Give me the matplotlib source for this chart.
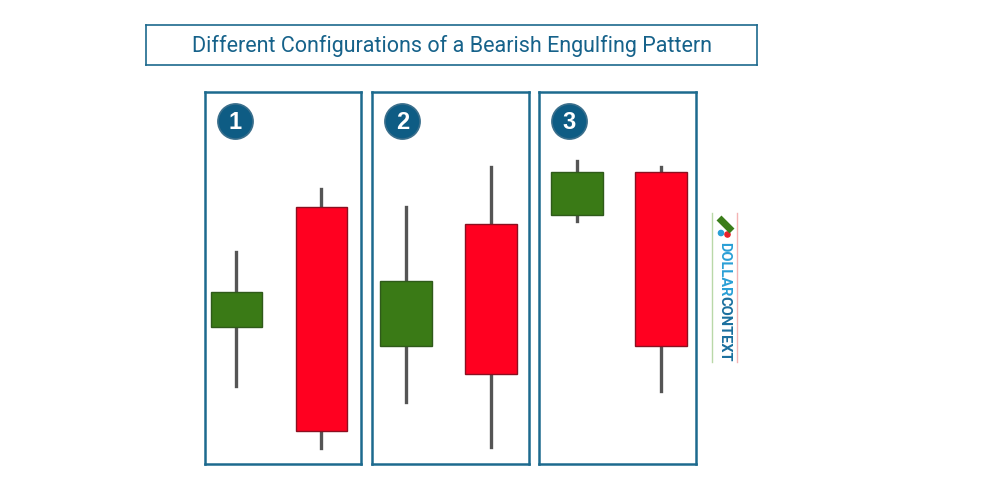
import matplotlib.pyplot as plt
from matplotlib.patches import Rectangle, Circle

# price units: 0 = panel bottom, 100 = panel top
panel_labels = ['1', '2', '3']
bull_open = [36.8, 31.7, 66.9]
bull_close = [46.2, 49.2, 78.5]
bull_high = [57.0, 69.1, 81.5]
bull_low = [21.0, 16.7, 65.3]
bear_open = [69.1, 64.5, 78.5]
bear_close = [8.9, 24.2, 31.7]
bear_high = [73.9, 79.8, 79.8]
bear_low = [4.3, 4.6, 19.6]

title = 'Different Configurations of a Bearish Engulfing Pattern'

BORDER = '#1d6a8e'
DARK = '#0e5c84'
GREEN = '#3a7a16'
RED = '#ff0020'
WICK = '#555555'

fig = plt.figure(figsize=(10, 5), dpi=100)
W, H = 1000, 500

def px_axes(x0, y0, x1, y1):
    return fig.add_axes([x0 / W, 1 - y1 / H, (x1 - x0) / W, (y1 - y0) / H])

# title box
tax = px_axes(146, 25, 757, 65)
tax.set_xticks([]); tax.set_yticks([])
for s in tax.spines.values():
    s.set_color(BORDER); s.set_linewidth(1.2)
tax.text(0.5, 0.47, title, ha='center', va='center', color='#16628a',
         fontsize=15.5, family=['Roboto', 'DejaVu Sans'],
         transform=tax.transAxes)

panels_x = [(205, 361), (372, 529), (539, 696)]
# candle centres as fraction of panel width (bull, bear)
centres = [(0.199, 0.744), (0.217, 0.758), (0.242, 0.777)]
bw = 0.327
for i, (x0, x1) in enumerate(panels_x):
    ax = px_axes(x0, 92, x1, 464)
    ax.set_xlim(0, 1)
    ax.set_ylim(0, 100)
    ax.set_xticks([]); ax.set_yticks([])
    for s in ax.spines.values():
        s.set_color(BORDER); s.set_linewidth(1.8)
    xb, xr = centres[i]
    # bullish candle
    ax.plot([xb, xb], [bull_low[i], bull_high[i]], color=WICK, lw=2.4, zorder=1)
    ax.add_patch(Rectangle((xb - bw / 2, bull_open[i]), bw, bull_close[i] - bull_open[i],
                           facecolor=GREEN, edgecolor='#2f5a1a', lw=1, zorder=2))
    # bearish candle
    ax.plot([xr, xr], [bear_low[i], bear_high[i]], color=WICK, lw=2.4, zorder=1)
    ax.add_patch(Rectangle((xr - bw / 2, bear_close[i]), bw, bear_open[i] - bear_close[i],
                           facecolor=RED, edgecolor='#8a1020', lw=1, zorder=2))
    # number badge
    bx = px_axes(x0 + 12, 103, x0 + 49, 140)
    bx.set_xlim(-1, 1); bx.set_ylim(-1, 1); bx.axis('off')
    bx.add_patch(Circle((0, 0), 0.95, facecolor=DARK, edgecolor='#3b6f8c', lw=1.2))
    bx.text(0, -0.05, panel_labels[i], ha='center', va='center', color='white',
            fontsize=17, fontweight='bold', family='Liberation Sans')

# logo
lax = px_axes(706, 205, 744, 365)
lax.set_xlim(0, 38); lax.set_ylim(160, 0); lax.axis('off')
lax.plot([6, 6], [8, 157], color='#b9d8a8', lw=1)
lax.plot([31, 31], [8, 157], color='#f4b3b3', lw=1)
lax.plot([13, 26], [13, 26], color='#3b7d1a', lw=5, solid_capstyle='butt')
lax.add_patch(Circle((15, 28), 2.6, color='#2a9fd6'))
lax.add_patch(Circle((21.5, 29.5), 2.6, color='#e8202a'))
lax.text(18.5, 91, 'DOLLAR', rotation=-90, ha='center', va='bottom', color='#2a9fd6',
         fontsize=10.5, fontweight='bold', family=['Roboto', 'DejaVu Sans'])
lax.text(18.5, 91, 'CONTEXT', rotation=-90, ha='center', va='top', color='#1b6f9e',
         fontsize=10.5, fontweight='bold', family=['Roboto', 'DejaVu Sans'])

fig.savefig('out.png', dpi=100)
